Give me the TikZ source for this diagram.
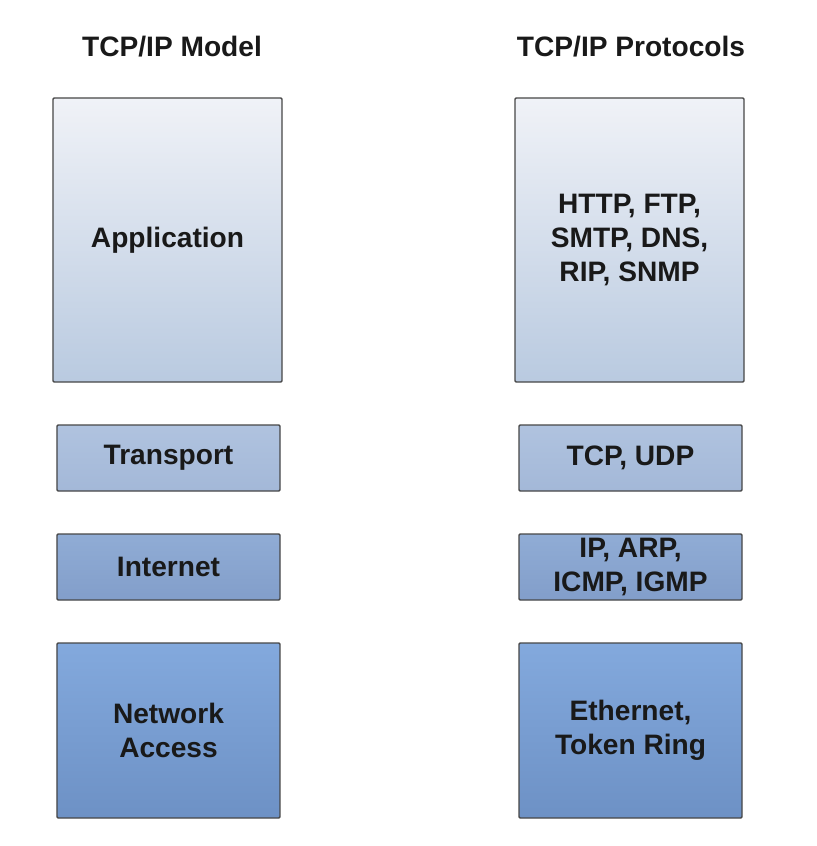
\documentclass[tikz,border=0pt]{standalone}
\usepackage{fontspec}
\setmainfont{Liberation Sans}

\definecolor{AppTop}{HTML}{F0F2F7}
\definecolor{AppBot}{HTML}{B9CAE0}
\definecolor{TraTop}{HTML}{B0C3DF}
\definecolor{TraBot}{HTML}{A3B8D8}
\definecolor{IntTop}{HTML}{90ACD5}
\definecolor{IntBot}{HTML}{829ECA}
\definecolor{NetTop}{HTML}{83A9DD}
\definecolor{NetBot}{HTML}{6D91C5}

\begin{document}
\begin{tikzpicture}[x=0.03cm, y=-0.03cm]
    \useasboundingbox (0,0) rectangle (816,846);
    \tikzset{LayerStyle/.style={draw=black!72, line width=1.2pt, rounded corners=1pt,
        inner sep=0pt, align=center, text=black!90,
        font=\bfseries\fontsize{24}{29}\selectfont}}
    \tikzset{TitleStyle/.style={font=\bfseries\fontsize{24}{29}\selectfont, text=black!90}}

    \node[TitleStyle] (ModelT) at (172,47) {TCP/IP Model};
    \node[TitleStyle] (ProtoT) at (631,47) {TCP/IP Protocols};

    \tikzset{AppStyle/.style={LayerStyle, minimum width=6.87cm, minimum height=8.52cm,
        top color=AppTop, bottom color=AppBot}}
    \node[AppStyle] (App) at (167.5,240) {Application};
    \node[AppStyle] (PApp) at (629.5,240) {HTTP, FTP,\\SMTP, DNS,\\RIP, SNMP};

    \tikzset{TraStyle/.style={LayerStyle, minimum width=6.69cm, minimum height=1.98cm,
        top color=TraTop, bottom color=TraBot}}
    \node[TraStyle] (Tra) at (168.5,458) {Transport};
    \node[TraStyle] (PTra) at (630.5,458) {TCP, UDP};

    \tikzset{IntStyle/.style={LayerStyle, minimum width=6.69cm, minimum height=1.98cm,
        top color=IntTop, bottom color=IntBot}}
    \node[IntStyle] (Int) at (168.5,567) {Internet};
    \node[IntStyle] (PInt) at (630.5,567) {IP, ARP,\\ICMP, IGMP};

    \tikzset{NetStyle/.style={LayerStyle, minimum width=6.69cm, minimum height=5.25cm,
        top color=NetTop, bottom color=NetBot}}
    \node[NetStyle] (Net) at (168.5,730.5) {Network\\Access};
    \node[NetStyle] (PNet) at (630.5,730.5) {Ethernet,\\Token Ring};
\end{tikzpicture}
\end{document}
